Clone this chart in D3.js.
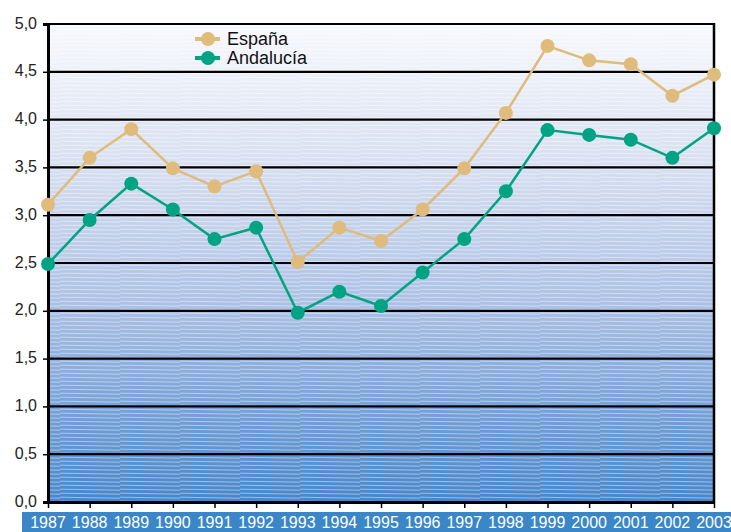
<!DOCTYPE html>
<html><head><meta charset="utf-8">
<script src="https://cdn.jsdelivr.net/npm/d3@7"></script>
<style>body{margin:0;background:#fff}svg{display:block}text{font-family:"Liberation Sans",Arial,sans-serif}</style>
</head><body><svg id="c" width="731" height="532"></svg>
<script>
const years = ["1987","1988","1989","1990","1991","1992","1993","1994","1995","1996","1997","1998","1999","2000","2001","2002","2003"];
const espana = [3.11,3.6,3.9,3.49,3.3,3.46,2.51,2.87,2.73,3.06,3.49,4.07,4.77,4.62,4.58,4.25,4.47];
const andalucia = [2.49,2.95,3.33,3.06,2.75,2.87,1.98,2.2,2.05,2.4,2.75,3.25,3.89,3.84,3.79,3.6,3.91];
const yTicks = [0,0.5,1,1.5,2,2.5,3,3.5,4,4.5,5];
const seriesNames = ["España","Andalucía"];
const colors = ["#dfbb7c","#00a384"];

const svg = d3.select("#c");
const L=48, R=714, T=24, B=502;
const x = d3.scalePoint().domain(years).range([L,R]);
const y = d3.scaleLinear().domain([0,5]).range([B,T]);

const defs = svg.append("defs");
const g = defs.append("linearGradient").attr("id","bg").attr("x1",0).attr("y1",0).attr("x2",0).attr("y2",1);
g.append("stop").attr("offset","0%").attr("stop-color","#f8f9fd");
g.append("stop").attr("offset","30%").attr("stop-color","#d6def0");
g.append("stop").attr("offset","60%").attr("stop-color","#a9bfe4");
g.append("stop").attr("offset","100%").attr("stop-color","#4786ca");
const pat = defs.append("pattern").attr("id","stripes").attr("patternUnits","userSpaceOnUse").attr("width",60).attr("height",4);
pat.append("path").attr("d","M0,1.2 L60,2.2").attr("stroke","#ffffff").attr("stroke-opacity",0.45).attr("stroke-width",1);

svg.append("rect").attr("x",L).attr("y",T).attr("width",R-L).attr("height",B-T).attr("fill","url(#bg)");
svg.append("rect").attr("x",L).attr("y",T).attr("width",R-L).attr("height",B-T).attr("fill","url(#stripes)");

// grid lines
svg.append("g").selectAll("line").data(yTicks.filter(d=>d>0)).join("line")
  .attr("x1",L).attr("x2",R).attr("y1",d=>y(d)).attr("y2",d=>y(d))
  .attr("stroke","#000").attr("stroke-width",2.2);
// right border
svg.append("line").attr("x1",R).attr("x2",R).attr("y1",T-1).attr("y2",B).attr("stroke","#000").attr("stroke-width",2.5);

// y axis
const ya = svg.append("g").attr("transform",`translate(${L},0)`)
  .call(d3.axisLeft(y).tickValues(yTicks).tickSize(5).tickPadding(6).tickFormat(d=>d3.format(".1f")(d).replace(".",",")));
ya.select(".domain").attr("stroke","#000").attr("stroke-width",3);
ya.selectAll(".tick line").attr("stroke","#000").attr("stroke-width",1.5);
ya.selectAll("text").attr("font-size",16).attr("fill","#222").attr("dy","0.25em");

// x axis
const xa = svg.append("g").attr("transform",`translate(0,${B})`)
  .call(d3.axisBottom(x).tickSize(6).tickFormat(""));
xa.select(".domain").attr("d",`M${L},0.5H${R}`).attr("stroke","#000").attr("stroke-width",3);
xa.selectAll(".tick line").attr("stroke","#000").attr("stroke-width",1.5);

// blue label bar
svg.append("rect").attr("x",22).attr("y",512).attr("width",731-22).attr("height",20).attr("fill","#3a86c7");
svg.append("g").selectAll("text").data(years).join("text")
  .attr("x",d=>x(d)).attr("y",527.5).attr("text-anchor","middle")
  .attr("font-size",16).attr("fill","#fff").text(d=>d);

// series
const data = [espana, andalucia];
const line = d3.line().x((d,i)=>x(years[i])).y(d=>y(d));
data.forEach((s,k)=>{
  svg.append("path").datum(s).attr("d",line).attr("fill","none").attr("stroke",colors[k]).attr("stroke-width",2.5);
  svg.append("g").selectAll("circle").data(s).join("circle")
    .attr("cx",(d,i)=>x(years[i])).attr("cy",d=>y(d)).attr("r",7).attr("fill",colors[k]);
});

// legend
const lg = svg.append("g");
seriesNames.forEach((n,k)=>{
  const yy = 39 + k*19;
  lg.append("line").attr("x1",195).attr("x2",220).attr("y1",yy).attr("y2",yy).attr("stroke",colors[k]).attr("stroke-width",4);
  lg.append("circle").attr("cx",208).attr("cy",yy).attr("r",7).attr("fill",colors[k]);
  lg.append("text").attr("x",227).attr("y",yy+6).attr("font-size",18).attr("fill","#111").text(n);
});
</script></body></html>
